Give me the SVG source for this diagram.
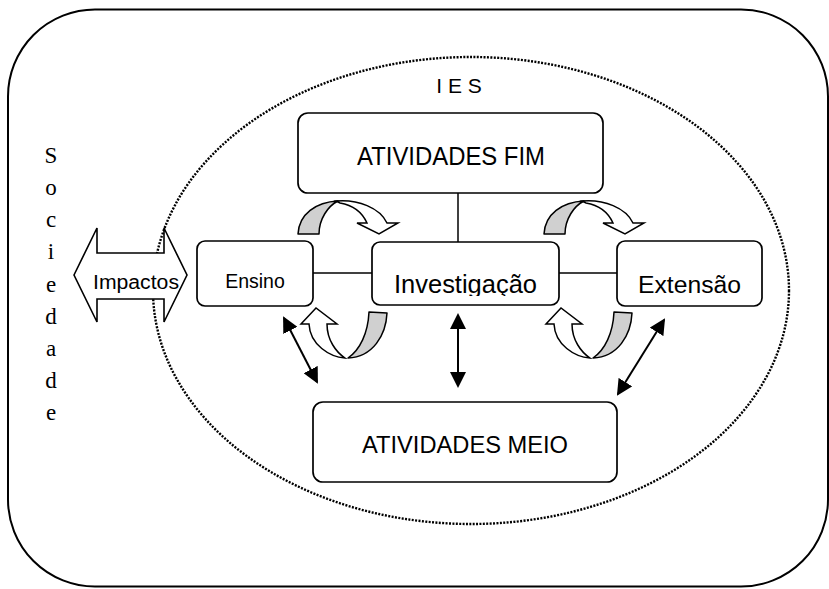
<svg xmlns="http://www.w3.org/2000/svg" xmlns:xlink="http://www.w3.org/1999/xlink" width="829" height="589" viewBox="0 0 829 589">
<style>
.box{fill:#fff;stroke:#000;stroke-width:1.7}
.lbl{font-family:"Liberation Sans",Arial,sans-serif;fill:#000;text-anchor:middle}
.ln{stroke:#000;stroke-width:1.5;fill:none}
.dbl{stroke:#000;stroke-width:2;fill:none;marker-start:url(#ah);marker-end:url(#ah)}
.gray{fill:#d0d0d0;stroke:#000;stroke-width:1.5;stroke-linejoin:round}
.wht{fill:#fff;stroke:#000;stroke-width:1.5;stroke-linejoin:miter}
</style>
<defs>
<marker id="ah" viewBox="0 0 16 16" refX="14" refY="8" markerWidth="16" markerHeight="16" markerUnits="userSpaceOnUse" orient="auto-start-reverse">
<path d="M0,0 L16,8 L0,16 Z" fill="#000"/>
</marker>
<g id="cdown">
<path class="wht" d="M336,201 C358,199 380,208 387,223 L398,223 L379,234 L357,223 L367,223 C362,212 352,205 340,203 Z"/>
<path class="gray" d="M298,234 C299,214 316,202 338,201 C328,206 319,219 319,234 Z"/>
</g>
<g id="cup">
<path class="wht" d="M345,358 C330,357 310,345 309,324 L301,324 L316,308 L337,324 L327,324 C327,340 336,352 345,358 Z"/>
<path class="gray" d="M369,312 L387,313 C386,335 373,357 348,358 C360,350 368,333 369,312 Z"/>
</g>
<clipPath id="invclip"><rect x="372" y="242" width="187" height="54"/></clipPath>
</defs>

<g id="sociedade">
<rect x="8" y="9.5" width="820" height="577" rx="87" ry="87" fill="#fff" stroke="#000" stroke-width="2"/>
<text font-family="'Liberation Serif','Times New Roman',serif" font-size="23" fill="#000" text-anchor="middle">
<tspan x="51" y="163">S</tspan><tspan x="51" y="195">o</tspan><tspan x="51" y="227">c</tspan><tspan x="51" y="259">i</tspan><tspan x="51" y="292">e</tspan><tspan x="51" y="324">d</tspan><tspan x="51" y="356">a</tspan><tspan x="51" y="388">d</tspan><tspan x="51" y="420">e</tspan>
</text>
</g>

<g id="ies">
<ellipse cx="471" cy="290.5" rx="318" ry="233.5" fill="none" stroke="#000" stroke-width="2.4" stroke-dasharray="2 1.4"/>
<text class="lbl" x="459" y="93" font-size="21">I E S</text>
</g>

<g id="connectors">
<line class="ln" x1="458" y1="193" x2="458" y2="242"/>
<line class="ln" x1="313" y1="273" x2="372" y2="273"/>
<line class="ln" x1="559" y1="273" x2="617" y2="273"/>
<line class="dbl" x1="458" y1="315" x2="458" y2="386"/>
<line class="dbl" x1="284" y1="318" x2="317" y2="382"/>
<line class="dbl" x1="664" y1="320" x2="618" y2="394"/>
<use xlink:href="#cdown"/>
<use xlink:href="#cdown" transform="translate(246,0)"/>
<use xlink:href="#cup"/>
<use xlink:href="#cup" transform="translate(245,0)"/>
</g>

<g id="impactos">
<polygon points="74,275 97,228 97,253 164,253 164,228 187,275 164,322 164,299 97,299 97,322" fill="#fff" stroke="#000" stroke-width="1.6" stroke-linejoin="miter"/>
<text class="lbl" x="136" y="289" font-size="20" textLength="86" lengthAdjust="spacingAndGlyphs">Impactos</text>
</g>

<g id="fim">
<rect class="box" x="298" y="113" width="305" height="80" rx="10"/>
<text class="lbl" x="451" y="165" font-size="25.5" textLength="188" lengthAdjust="spacingAndGlyphs">ATIVIDADES FIM</text>
</g>

<g id="ensino">
<rect class="box" x="197" y="241" width="116" height="65" rx="8"/>
<text class="lbl" x="255" y="288" font-size="19.5">Ensino</text>
</g>

<g id="investigacao">
<rect class="box" x="372" y="242" width="187" height="63" rx="8"/>
<text class="lbl" x="465.5" y="293" font-size="25" textLength="143" lengthAdjust="spacingAndGlyphs" clip-path="url(#invclip)">Investigação</text>
</g>

<g id="extensao">
<rect class="box" x="617" y="241" width="145" height="65" rx="8"/>
<text class="lbl" x="689.5" y="293" font-size="23" textLength="103" lengthAdjust="spacingAndGlyphs">Extensão</text>
</g>

<g id="meio">
<rect class="box" x="313" y="402" width="304" height="80" rx="10"/>
<text class="lbl" x="465" y="453" font-size="24.5" textLength="206" lengthAdjust="spacingAndGlyphs">ATIVIDADES MEIO</text>
</g>
</svg>
